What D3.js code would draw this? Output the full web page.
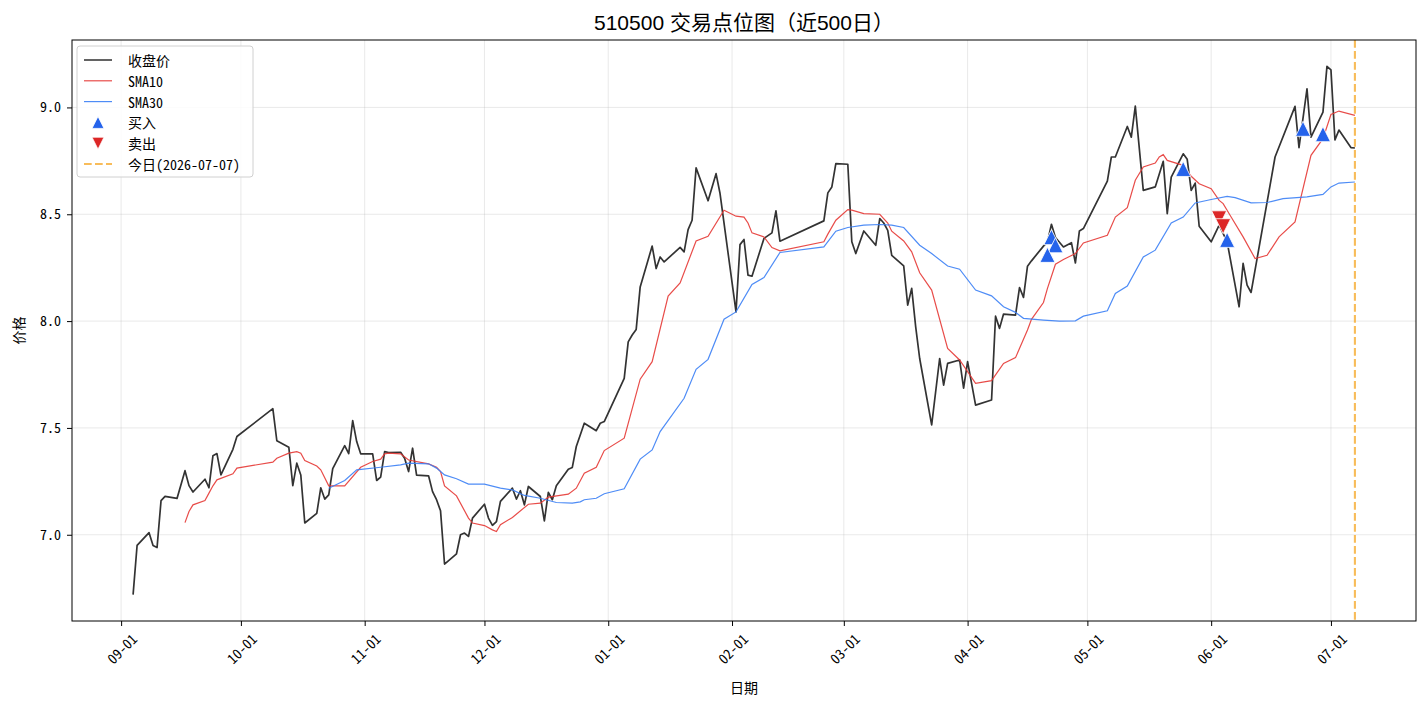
<!DOCTYPE html>
<html>
<head>
<meta charset="utf-8">
<script src="https://cdn.jsdelivr.net/npm/d3@7"></script>
<style>
	body { margin: 0; background: #fff; }
	svg { display: block; }
	.tick text { font-family: "Noto Sans Mono CJK SC", "Noto Sans CJK SC", sans-serif; font-size: 14px; fill: #000; }
	.grid line { stroke: #b0b0b0; stroke-opacity: 0.35; stroke-width: 0.8; }
</style>
</head>
<body>
<svg id="chart" width="1428" height="706"></svg>
<script>
// closing prices
const closeSeries = [
	["2025-09-04",6.72],["2025-09-05",6.95],["2025-09-08",7.01],["2025-09-09",6.95],["2025-09-10",6.94],["2025-09-11",7.16],["2025-09-12",7.18],["2025-09-15",7.17],["2025-09-17",7.30],["2025-09-18",7.23],["2025-09-19",7.20],["2025-09-22",7.26],["2025-09-23",7.22],["2025-09-24",7.37],["2025-09-25",7.38],["2025-09-26",7.28],["2025-09-29",7.40],["2025-09-30",7.46],
	["2025-10-09",7.59],["2025-10-10",7.44],["2025-10-13",7.41],["2025-10-14",7.23],["2025-10-15",7.335],["2025-10-16",7.28],["2025-10-17",7.055],["2025-10-20",7.10],["2025-10-21",7.22],["2025-10-22",7.167],["2025-10-23",7.187],["2025-10-24",7.31],["2025-10-27",7.417],["2025-10-28",7.38],["2025-10-29",7.534],["2025-10-30",7.436],["2025-10-31",7.379],
	["2025-11-03",7.379],["2025-11-04",7.254],["2025-11-05",7.27],["2025-11-06",7.389],["2025-11-07",7.385],["2025-11-10",7.386],["2025-11-11",7.358],["2025-11-12",7.296],["2025-11-13",7.405],["2025-11-14",7.279],["2025-11-17",7.276],["2025-11-18",7.202],["2025-11-19",7.164],["2025-11-20",7.112],["2025-11-21",6.863],["2025-11-24",6.911],["2025-11-25",7.0],["2025-11-26",7.008],["2025-11-27",6.992],["2025-11-28",7.078],
	["2025-12-01",7.143],["2025-12-02",7.078],["2025-12-03",7.044],["2025-12-04",7.062],["2025-12-05",7.156],["2025-12-08",7.218],["2025-12-09",7.167],["2025-12-10",7.206],["2025-12-11",7.14],["2025-12-12",7.226],["2025-12-15",7.179],["2025-12-16",7.065],["2025-12-17",7.198],["2025-12-18",7.164],["2025-12-19",7.229],["2025-12-22",7.307],["2025-12-23",7.315],["2025-12-24",7.413],["2025-12-26",7.522],["2025-12-29",7.487],["2025-12-30",7.522],["2025-12-31",7.53],
	["2026-01-05",7.732],["2026-01-06",7.903],["2026-01-07",7.935],["2026-01-08",7.961],["2026-01-09",8.16],["2026-01-12",8.351],["2026-01-13",8.246],["2026-01-14",8.30],["2026-01-15",8.277],["2026-01-19",8.345],["2026-01-20",8.324],["2026-01-21",8.428],["2026-01-22",8.472],["2026-01-23",8.717],["2026-01-26",8.563],["2026-01-28",8.69],["2026-01-29",8.597],
	["2026-02-02",8.043],["2026-02-03",8.358],["2026-02-04",8.382],["2026-02-05",8.215],["2026-02-06",8.21],["2026-02-09",8.387],["2026-02-11",8.413],["2026-02-12",8.516],["2026-02-13",8.374],["2026-02-24",8.469],["2026-02-25",8.60],["2026-02-26",8.628],["2026-02-27",8.737],
	["2026-03-02",8.734],["2026-03-03",8.371],["2026-03-04",8.316],["2026-03-06",8.422],["2026-03-09",8.355],["2026-03-10",8.48],["2026-03-11",8.459],["2026-03-12",8.425],["2026-03-13",8.308],["2026-03-16",8.258],["2026-03-17",8.075],["2026-03-18",8.153],["2026-03-19",7.973],["2026-03-20",7.825],["2026-03-23",7.514],["2026-03-25",7.825],["2026-03-26",7.70],["2026-03-27",7.802],["2026-03-30",7.818],["2026-03-31",7.686],
	["2026-04-01",7.81],["2026-04-03",7.607],["2026-04-07",7.631],["2026-04-08",8.023],["2026-04-09",7.966],["2026-04-10",8.033],["2026-04-13",8.028],["2026-04-14",8.157],["2026-04-15",8.111],["2026-04-16",8.257],["2026-04-17",8.282],["2026-04-20",8.351],["2026-04-21",8.37],["2026-04-22",8.453],["2026-04-23",8.391],["2026-04-25",8.347],["2026-04-27",8.367],["2026-04-28",8.272],["2026-04-29",8.422],["2026-04-30",8.433],
	["2026-05-06",8.655],["2026-05-07",8.768],["2026-05-08",8.768],["2026-05-11",8.911],["2026-05-12",8.861],["2026-05-13",9.006],["2026-05-15",8.612],["2026-05-18",8.628],["2026-05-20",8.748],["2026-05-21",8.503],["2026-05-22",8.674],["2026-05-25",8.783],["2026-05-26",8.757],["2026-05-27",8.612],["2026-05-28",8.646],["2026-05-29",8.444],
	["2026-06-01",8.371],["2026-06-03",8.449],["2026-06-05",8.371],["2026-06-08",8.067],["2026-06-09",8.27],["2026-06-10",8.168],["2026-06-11",8.134],["2026-06-17",8.768],["2026-06-22",9.005],["2026-06-23",8.812],["2026-06-25",9.087],["2026-06-26",8.861],["2026-06-29",8.978],["2026-06-30",9.192],
	["2026-07-01",9.176],["2026-07-02",8.848],["2026-07-03",8.894],["2026-07-06",8.812],["2026-07-07",8.81]
];

// 10 day moving average
const sma10Series = [
	["2025-09-17",7.057],["2025-09-18",7.109],["2025-09-19",7.140],["2025-09-22",7.160],["2025-09-23",7.195],["2025-09-24",7.229],["2025-09-25",7.257],["2025-09-29",7.285],["2025-09-30",7.312],
	["2025-10-09",7.340],["2025-10-10",7.358],["2025-10-13",7.382],["2025-10-15",7.389],["2025-10-16",7.382],["2025-10-17",7.347],["2025-10-20",7.322],["2025-10-21",7.304],["2025-10-23",7.229],["2025-10-27",7.229],["2025-10-31",7.316],
	["2025-11-03",7.343],["2025-11-05",7.354],["2025-11-06",7.379],["2025-11-07",7.382],["2025-11-10",7.379],["2025-11-12",7.350],["2025-11-17",7.332],["2025-11-19",7.316],["2025-11-20",7.296],["2025-11-21",7.229],["2025-11-24",7.182],["2025-11-27",7.078],["2025-11-28",7.055],
	["2025-12-01",7.043],["2025-12-03",7.023],["2025-12-04",7.015],["2025-12-05",7.047],["2025-12-08",7.081],["2025-12-12",7.143],["2025-12-15",7.148],["2025-12-17",7.176],["2025-12-22",7.190],["2025-12-24",7.218],["2025-12-26",7.288],["2025-12-29",7.316],["2025-12-31",7.394],
	["2026-01-05",7.452],["2026-01-09",7.728],["2026-01-12",7.810],["2026-01-16",8.117],["2026-01-19",8.179],["2026-01-23",8.375],["2026-01-26",8.397],["2026-01-30",8.519],
	["2026-02-02",8.491],["2026-02-04",8.487],["2026-02-05",8.459],["2026-02-06",8.413],["2026-02-09",8.394],["2026-02-11",8.344],["2026-02-13",8.329],["2026-02-24",8.371],["2026-02-25",8.407],["2026-02-27",8.472],
	["2026-03-02",8.522],["2026-03-03",8.519],["2026-03-06",8.503],["2026-03-10",8.500],["2026-03-12",8.459],["2026-03-13",8.421],["2026-03-16",8.375],["2026-03-18",8.324],["2026-03-20",8.226],["2026-03-23",8.145],["2026-03-27",7.872],["2026-03-30",7.818],
	["2026-04-03",7.709],["2026-04-07",7.721],["2026-04-08",7.748],["2026-04-10",7.802],["2026-04-13",7.829],["2026-04-16",7.958],["2026-04-17",8.008],["2026-04-20",8.087],["2026-04-21",8.153],["2026-04-23",8.266],["2026-04-25",8.288],["2026-04-28",8.316],["2026-04-30",8.366],
	["2026-05-06",8.402],["2026-05-08",8.487],["2026-05-11",8.531],["2026-05-13",8.659],["2026-05-15",8.721],["2026-05-18",8.740],["2026-05-19",8.768],["2026-05-20",8.779],["2026-05-21",8.752],["2026-05-25",8.729],["2026-05-27",8.678],["2026-05-29",8.643],
	["2026-06-01",8.620],["2026-06-03",8.565],["2026-06-04",8.550],["2026-06-06",8.487],["2026-06-09",8.394],["2026-06-12",8.293],["2026-06-15",8.308],["2026-06-18",8.394],["2026-06-22",8.464],["2026-06-26",8.776],["2026-06-29",8.854],
	["2026-07-01",8.967],["2026-07-03",8.983],["2026-07-07",8.963]
];

// 30 day moving average
const sma30Series = [
	["2025-10-23",7.218],["2025-10-27",7.254],["2025-10-30",7.304],
	["2025-11-05",7.316],["2025-11-10",7.327],["2025-11-12",7.335],["2025-11-17",7.332],["2025-11-19",7.312],["2025-11-21",7.280],["2025-11-24",7.262],["2025-11-27",7.237],
	["2025-12-01",7.237],["2025-12-05",7.218],["2025-12-08",7.210],["2025-12-11",7.184],["2025-12-15",7.171],["2025-12-19",7.151],["2025-12-23",7.148],["2025-12-25",7.154],["2025-12-26",7.164],["2025-12-29",7.171],["2025-12-31",7.192],
	["2026-01-05",7.215],["2026-01-09",7.354],["2026-01-12",7.397],["2026-01-14",7.483],["2026-01-20",7.639],["2026-01-23",7.774],["2026-01-26",7.821],["2026-01-30",8.009],
	["2026-02-02",8.043],["2026-02-06",8.171],["2026-02-09",8.204],["2026-02-13",8.321],["2026-02-24",8.347],["2026-02-27",8.421],
	["2026-03-02",8.438],["2026-03-06",8.449],["2026-03-10",8.452],["2026-03-13",8.449],["2026-03-16",8.438],["2026-03-20",8.355],["2026-03-23",8.316],["2026-03-27",8.258],["2026-03-30",8.243],
	["2026-04-03",8.145],["2026-04-07",8.118],["2026-04-10",8.067],["2026-04-13",8.041],["2026-04-15",8.013],["2026-04-20",8.005],["2026-04-24",8.000],["2026-04-28",8.001],["2026-04-30",8.023],
	["2026-05-06",8.048],["2026-05-08",8.129],["2026-05-11",8.164],["2026-05-15",8.300],["2026-05-18",8.332],["2026-05-22",8.459],["2026-05-25",8.487],["2026-05-28",8.553],
	["2026-06-01",8.569],["2026-06-05",8.584],["2026-06-07",8.578],["2026-06-11",8.553],["2026-06-15",8.555],["2026-06-19",8.573],["2026-06-25",8.581],["2026-06-29",8.593],
	["2026-07-01",8.628],["2026-07-03",8.646],["2026-07-07",8.651]
];

// trade points
const buySignals = [
	["2026-04-22",8.393],["2026-04-23",8.355],["2026-04-21",8.31],["2026-05-25",8.712],["2026-06-05",8.38],["2026-06-24",8.90],["2026-06-29",8.875]
];
const sellSignals = [
	["2026-06-03",8.481],["2026-06-04",8.444]
];

const todayDate = "2026-07-07";
const yTickValues = [7.0, 7.5, 8.0, 8.5, 9.0];
const legendLabels = ["收盘价", "SMA10", "SMA30", "买入", "卖出", "今日(" + todayDate + ")"];

const colors = {
	close: "#333333",
	sma10: "#e53935",
	sma30: "#3b7ff5",
	buy: "#2563eb",
	sell: "#dc2626",
	today: "#f5a623"
};

const parseDate = d3.timeParse("%Y-%m-%d");
const toPoints = series => series.map(d => ({date: parseDate(d[0]), value: d[1]}));

const closeData = toPoints(closeSeries),
	sma10Data = toPoints(sma10Series),
	sma30Data = toPoints(sma30Series),
	buyData = toPoints(buySignals),
	sellData = toPoints(sellSignals),
	today = parseDate(todayDate);

const svg = d3.select("#chart");
const margin = {top: 40, right: 12, bottom: 85, left: 72};
const width = 1428 - margin.left - margin.right,
	height = 706 - margin.top - margin.bottom;

// matplotlib style 5% padding round the data
const xExtent = d3.extent(closeData.concat([{date: today}]), d => d.date);
const xPad = (xExtent[1] - xExtent[0]) * 0.05;
const allValues = closeData.concat(sma10Data, sma30Data).map(d => d.value);
const yMin = d3.min(allValues), yMax = d3.max(allValues);
const yPad = (yMax - yMin) * 0.05;

const x = d3.scaleTime()
	.domain([new Date(+xExtent[0] - xPad), new Date(+xExtent[1] + xPad)])
	.range([0, width]);
const y = d3.scaleLinear()
	.domain([yMin - yPad, yMax + yPad])
	.range([height, 0]);

const g = svg.append("g").attr("transform", `translate(${margin.left},${margin.top})`);

// grid
const monthTicks = x.ticks(d3.timeMonth.every(1));
const grid = g.append("g").attr("class", "grid");
grid.selectAll(".gx").data(monthTicks).enter().append("line")
	.attr("x1", d => x(d)).attr("x2", d => x(d))
	.attr("y1", 0).attr("y2", height);
grid.selectAll(".gy").data(yTickValues).enter().append("line")
	.attr("x1", 0).attr("x2", width)
	.attr("y1", d => y(d)).attr("y2", d => y(d));

// lines
const line = d3.line().x(d => x(d.date)).y(d => y(d.value));
g.append("path").datum(closeData)
	.attr("fill", "none").attr("stroke", colors.close).attr("stroke-width", 1.7)
	.attr("stroke-linejoin", "round").attr("d", line);
g.append("path").datum(sma10Data)
	.attr("fill", "none").attr("stroke", colors.sma10).attr("stroke-opacity", 0.9).attr("stroke-width", 1.2)
	.attr("d", line);
g.append("path").datum(sma30Data)
	.attr("fill", "none").attr("stroke", colors.sma30).attr("stroke-opacity", 0.9).attr("stroke-width", 1.2)
	.attr("d", line);

// today marker line
g.append("line")
	.attr("x1", x(today)).attr("x2", x(today))
	.attr("y1", 0).attr("y2", height)
	.attr("stroke", colors.today).attr("stroke-opacity", 0.75)
	.attr("stroke-width", 2.1).attr("stroke-dasharray", "7.7,3.3");

// triangles, sized like matplotlib '^' / 'v'
function triangle(s, up) {
	return up ? `M0,${-s}L${-s},${s}L${s},${s}Z` : `M0,${s}L${-s},${-s}L${s},${-s}Z`;
}
g.selectAll(".buy").data(buyData).enter().append("path")
	.attr("class", "buy")
	.attr("d", triangle(7.5, true))
	.attr("transform", d => `translate(${x(d.date)},${y(d.value)})`)
	.attr("fill", colors.buy).attr("stroke", "#fff").attr("stroke-width", 0.8);
g.selectAll(".sell").data(sellData).enter().append("path")
	.attr("class", "sell")
	.attr("d", triangle(7.5, false))
	.attr("transform", d => `translate(${x(d.date)},${y(d.value)})`)
	.attr("fill", colors.sell).attr("stroke", "#fff").attr("stroke-width", 0.8);

// axes
const xAxis = g.append("g")
	.attr("transform", `translate(0,${height})`)
	.call(d3.axisBottom(x).tickValues(monthTicks).tickFormat(d3.timeFormat("%m-%d")).tickSize(5).tickSizeOuter(0));
xAxis.select(".domain").remove();
xAxis.selectAll(".tick text").each(function() {
	let t = d3.select(this),
		w = this.getComputedTextLength(),
		rotH = (w + 14) * Math.SQRT1_2;
	t.attr("y", null).attr("dy", null)
		.attr("text-anchor", "middle")
		.attr("dominant-baseline", "central")
		.attr("transform", `translate(0,${10 + rotH / 2}) rotate(-45)`);
});

const yAxis = g.append("g")
	.call(d3.axisLeft(y).tickValues(yTickValues).tickFormat(d3.format(".1f")).tickSize(5).tickPadding(6).tickSizeOuter(0));
yAxis.select(".domain").remove();

// frame
g.append("rect").attr("width", width).attr("height", height)
	.attr("fill", "none").attr("stroke", "#000").attr("stroke-width", 1);

// titles
svg.append("text")
	.attr("x", margin.left + width / 2).attr("y", 30)
	.attr("text-anchor", "middle")
	.style("font-family", "\"Liberation Sans\", \"Noto Sans CJK SC\", sans-serif")
	.style("font-size", "21px")
	.text("510500 交易点位图（近500日）");
svg.append("text")
	.attr("x", margin.left + width / 2).attr("y", 693)
	.attr("text-anchor", "middle")
	.style("font-family", "\"Noto Sans CJK SC\", sans-serif").style("font-size", "14px")
	.text("日期");
svg.append("text")
	.attr("transform", `translate(24,${margin.top + height / 2}) rotate(-90)`)
	.attr("text-anchor", "middle")
	.style("font-family", "\"Noto Sans CJK SC\", sans-serif").style("font-size", "14px")
	.text("价格");

// legend
const legend = svg.append("g").attr("transform", "translate(77,46)");
legend.append("rect")
	.attr("width", 176).attr("height", 131).attr("rx", 3)
	.attr("fill", "#fff").attr("fill-opacity", 0.85)
	.attr("stroke", "#d0d0d0").attr("stroke-width", 1);

const rowY = i => 14 + i * 20.8;
const handles = [
	{type: "line", color: colors.close, width: 1.7},
	{type: "line", color: colors.sma10, width: 1.2},
	{type: "line", color: colors.sma30, width: 1.2},
	{type: "up", color: colors.buy},
	{type: "down", color: colors.sell},
	{type: "dash", color: colors.today, width: 2.1}
];
handles.forEach((h, i) => {
	let cy = rowY(i);
	if (h.type === "line" || h.type === "dash") {
		legend.append("line")
			.attr("x1", 7).attr("x2", 35).attr("y1", cy).attr("y2", cy)
			.attr("stroke", h.color).attr("stroke-width", h.width)
			.attr("stroke-dasharray", h.type === "dash" ? "7.7,3.3" : null)
			.attr("stroke-opacity", h.type === "dash" ? 0.75 : 0.9);
	} else {
		legend.append("path")
			.attr("d", triangle(6, h.type === "up"))
			.attr("transform", `translate(21,${cy})`)
			.attr("fill", h.color).attr("stroke", "#fff").attr("stroke-width", 0.8);
	}
	legend.append("text")
		.attr("x", 51).attr("y", cy)
		.attr("dominant-baseline", "central")
		.style("font-family", "\"Noto Sans Mono CJK SC\", \"Noto Sans CJK SC\", sans-serif")
		.style("font-size", "14px")
		.text(legendLabels[i]);
});
</script>
</body>
</html>
